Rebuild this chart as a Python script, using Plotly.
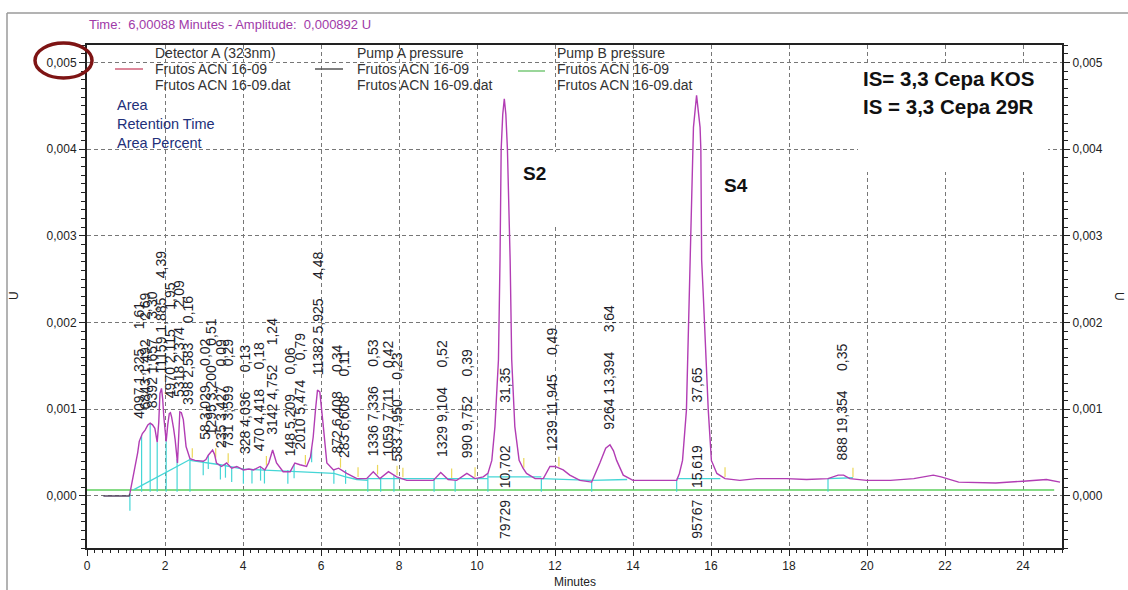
import numpy as np
import plotly.graph_objects as go

# ---------------- data ----------------
time_min = [0.42, 1.08, 1.10, 1.17, 1.23, 1.30, 1.34, 1.42, 1.49, 1.56, 1.62, 1.68, 1.74, 1.80, 1.84,
            1.87, 1.91, 1.94, 1.97, 2.03, 2.07, 2.11, 2.14, 2.17, 2.22, 2.26, 2.32, 2.35, 2.38, 2.42,
            2.47, 2.54, 2.64, 2.77, 2.98, 3.05, 3.11, 3.22, 3.27, 3.32, 3.45, 3.58, 3.71, 3.84, 4.01,
            4.15, 4.27, 4.44, 4.56, 4.66, 4.76, 4.86, 5.03, 5.21, 5.33, 5.46, 5.63, 5.73, 5.80, 5.86,
            5.91, 5.97, 6.02, 6.06, 6.15, 6.32, 6.45, 6.66, 6.92, 7.17, 7.34, 7.51, 7.73, 7.94, 8.20,
            8.88, 9.07, 9.26, 9.48, 9.74, 9.95, 10.16, 10.28, 10.38, 10.46, 10.55, 10.59, 10.62, 10.66,
            10.70, 10.74, 10.78, 10.85, 10.89, 10.97, 11.08, 11.18, 11.27, 11.49, 11.70, 11.87, 12.00,
            12.21, 12.38, 12.64, 12.94, 13.15, 13.30, 13.41, 13.50, 13.58, 13.75, 14.00, 14.69, 15.12,
            15.19, 15.27, 15.37, 15.44, 15.46, 15.52, 15.55, 15.63, 15.72, 15.74, 15.76, 15.80, 15.93,
            16.01, 16.15, 16.36, 16.74, 17.17, 17.94, 18.45, 19.00, 19.26, 19.40, 19.56, 19.99, 20.60,
            21.20, 21.70, 21.90, 22.35, 23.30, 24.00, 24.60, 24.95]
signal_u = [0.0, 0.0, 0.00003, 0.00018, 0.00034, 0.00050, 0.00063, 0.00072, 0.00076, 0.00082, 0.00084,
            0.00082, 0.00078, 0.00062, 0.00085, 0.00118, 0.00124, 0.00112, 0.00091, 0.00063, 0.00082,
            0.00095, 0.00096, 0.00091, 0.00078, 0.00065, 0.00038, 0.00070, 0.00097, 0.00096, 0.00088,
            0.00057, 0.00043, 0.00041, 0.00040, 0.00042, 0.00047, 0.00053, 0.00048, 0.00038, 0.00034,
            0.00038, 0.00032, 0.00034, 0.00030, 0.00031, 0.00030, 0.00034, 0.00030, 0.00038, 0.00053,
            0.00038, 0.00028, 0.00028, 0.00038, 0.00036, 0.00034, 0.00045, 0.00068, 0.00100, 0.00122,
            0.00120, 0.00100, 0.00080, 0.00038, 0.00030, 0.00032, 0.00026, 0.00020, 0.00020, 0.00028,
            0.00020, 0.00028, 0.00022, 0.00018, 0.00018, 0.00027, 0.00019, 0.00018, 0.00026, 0.00020,
            0.00022, 0.00026, 0.00041, 0.00080, 0.00157, 0.00272, 0.00400, 0.00440, 0.00458, 0.00440,
            0.00400, 0.00272, 0.00157, 0.00080, 0.00041, 0.00032, 0.00026, 0.00020, 0.00020, 0.00034,
            0.00034, 0.00030, 0.00024, 0.00018, 0.00016, 0.00038, 0.00055, 0.00059, 0.00052, 0.00041,
            0.00024, 0.00018, 0.00018, 0.00018, 0.00026, 0.00041, 0.00099, 0.00234, 0.00272, 0.00399,
            0.00425, 0.00462, 0.00425, 0.00399, 0.00272, 0.00234, 0.00099, 0.00041, 0.00026, 0.00020,
            0.00018, 0.00020, 0.00020, 0.00019, 0.00020, 0.00024, 0.00024, 0.00020, 0.00018, 0.00018,
            0.00020, 0.00024, 0.00022, 0.00016, 0.00015, 0.00017, 0.00019, 0.00016]

# integration baselines (cyan)
base_t = [1.19, 2.64, None, 2.64, 2.98, 3.42, 4.01, 4.50, 5.15, 5.76, 6.33, 6.63, 6.92, 7.20, None,
          7.20, 10.28, None, 10.28, 11.65, None, 11.65, 12.94, None, 12.94, 13.85, None,
          15.12, 16.24, None, 19.00, 19.64]
base_v = [0.00007, 0.00042, None, 0.00041, 0.00039, 0.00036, 0.00031, 0.00030, 0.00029, 0.00028,
          0.00026, 0.00022, 0.00019, 0.00018, None, 0.00020, 0.00020, None, 0.00022, 0.00022, None,
          0.00020, 0.00018, None, 0.00018, 0.00019, None, 0.00020, 0.00020, None, 0.00020, 0.00021]
drop_t = [1.10, 1.40, 1.62, 1.80, 2.03, 2.31, 2.64, 2.98, 3.11, 3.42, 3.55, 3.71, 4.01, 4.23, 4.45,
          4.55, 5.15, 5.31, 5.76, 6.33, 6.63, 7.20, 7.53, 7.87, 8.90, 9.44, 10.28, 11.65, 12.94,
          15.12, 19.00]
mark_t = [2.70, 3.30, 3.62, 4.60, 5.60, 6.50, 6.95, 7.45, 7.95, 8.10, 9.35, 9.95, 11.20, 12.10,
          16.36, 19.64]
pump_b_level = 0.00007

peak_rt = [1.325, 1.492, 1.657, 1.885, 2.115, 2.374, 2.583, 3.029, 3.200, 3.427, 3.599, 4.036,
           4.418, 4.752, 5.209, 5.474, 5.925, 6.408, 6.608, 7.336, 7.711, 7.950, 9.104, 9.752,
           10.702, 11.945, 13.394, 15.619, 19.354]
peak_area = [4097, 6843, 8392, 11159, 4970, 5318, 398, 58, 1295, 235, 731, 328, 470, 3142, 148,
             2010, 11382, 872, 283, 1336, 1059, 583, 1329, 990, 79729, 1239, 9264, 95767, 888]
peak_pct = [1.61, 2.69, 3.30, 4.39, 1.95, 2.09, 0.16, 0.02, 0.51, 0.09, 0.29, 0.13, 0.18, 1.24,
            0.06, 0.79, 4.48, 0.34, 0.11, 0.53, 0.42, 0.23, 0.52, 0.39, 31.35, 0.49, 3.64, 37.65,
            0.35]

x_ticks = list(range(0, 25, 2))
y_ticks = [0.000, 0.001, 0.002, 0.003, 0.004, 0.005]

# ---------------- figure ----------------
W, H = 1128, 590
L, R, T, B = 87, 1062, 45, 548
def px(x):
    return (x - L) / (R - L)
def py(y):
    return (B - y) / (B - T)

FONT = "Liberation Sans, Arial, sans-serif"
NB = "\u00a0"
fig = go.Figure()

t_arr = np.array(time_min)
s_arr = np.array(signal_u)

# pump B pressure (green)
fig.add_trace(go.Scatter(x=[0, 24.8], y=[pump_b_level, pump_b_level], mode="lines",
                         line=dict(color="#5ccf5c", width=1.5), hoverinfo="skip"))

# cyan baselines
fig.add_trace(go.Scatter(x=base_t, y=base_v, mode="lines", connectgaps=False,
                         line=dict(color="#45d6d6", width=1.3), hoverinfo="skip"))
# cyan drop lines
dx, dy = [], []
for t in drop_t:
    top = float(np.interp(t, t_arr, s_arr))
    if t < 1.15:
        bot = -0.00017
    elif t < 2.8 or t > 7.0:
        bot = pump_b_level - 0.00002
    else:
        top = max(top, 0.0003)
        bot = top - 0.00016
    dx += [t, t, None]
    dy += [top, bot, None]
fig.add_trace(go.Scatter(x=dx, y=dy, mode="lines", line=dict(color="#45d6d6", width=1.2),
                         hoverinfo="skip"))
# yellow peak markers
mx, my = [], []
for t in mark_t:
    v = float(np.interp(t, t_arr, s_arr))
    mx += [t, t, None]
    my += [v + 0.00002, v + 0.00013, None]
fig.add_trace(go.Scatter(x=mx, y=my, mode="lines", line=dict(color="#ecd85a", width=1.2),
                         hoverinfo="skip"))

# detector trace (flat start drawn darker, as in the screenshot)
flat = t_arr <= 1.10
fig.add_trace(go.Scatter(x=t_arr[flat], y=s_arr[flat], mode="lines",
                         line=dict(color="#5a4a66", width=1.4), hoverinfo="skip"))
fig.add_trace(go.Scatter(x=t_arr[t_arr >= 1.10], y=s_arr[t_arr >= 1.10], mode="lines",
                         line=dict(color="#b23db4", width=1.4), hoverinfo="skip"))

# right axis helper
fig.add_trace(go.Scatter(x=[0], y=[0], yaxis="y2", mode="markers", opacity=0,
                         hoverinfo="skip"))

# peak labels (area, retention time, area percent), rotated
ann = []
for rt, area, pct in zip(peak_rt, peak_area, peak_pct):
    local = s_arr[(t_arr > rt - 0.12) & (t_arr < rt + 0.12)]
    peak_h = float(local.max()) if local.size else float(np.interp(rt, t_arr, s_arr))
    rt_s = f"{rt:.3f}".replace(".", ",")
    pct_s = f"{pct:.2f}".replace(".", ",")
    if peak_h > 0.002:
        base = -0.00052
        txt = f"{area}{NB*3}{rt_s}{NB*11}{pct_s}"
    else:
        base = peak_h + 0.00015
        txt = f"{area}{NB}{rt_s}{NB*5}{pct_s}"
    ann.append(dict(x=rt, y=base, xref="x", yref="y", text=txt, showarrow=False,
                    textangle=-90, xanchor="center", yanchor="bottom",
                    font=dict(family=FONT, size=14, color="#1e1e2a")))

def ptext(x, y, text, size=12, color="#333333", anchor="left", bold=False, angle=0):
    ann.append(dict(x=px(x), y=py(y), xref="paper", yref="paper", text=(f"<b>{text}</b>" if bold else text),
                    showarrow=False, xanchor=anchor, yanchor="middle", textangle=angle,
                    font=dict(family=FONT, size=size, color=color)))

ptext(87, 25, "Time:  6,00088 Minutes - Amplitude:  0,000892 U", 13, "#a03aa8")
ptext(153, 53, "Detector A (323nm)", 14)
ptext(153, 69, "Frutos ACN 16-09", 14)
ptext(153, 85, "Frutos ACN 16-09.dat", 14)
ptext(355, 53, "Pump A pressure", 14)
ptext(355, 69, "Frutos ACN 16-09", 14)
ptext(355, 85, "Frutos ACN 16-09.dat", 14)
ptext(555, 53, "Pump B pressure", 14)
ptext(555, 69, "Frutos ACN 16-09", 14)
ptext(555, 85, "Frutos ACN 16-09.dat", 14)
ptext(115, 105, "Area", 14.5, "#22307a")
ptext(115, 124, "Retention Time", 14.5, "#22307a")
ptext(115, 143, "Area Percent", 14.5, "#22307a")
ptext(861, 79, "IS= 3,3 Cepa KOS", 20.5, "#111111", bold=True)
ptext(861, 106, "IS = 3,3 Cepa 29R", 20.5, "#111111", bold=True)
ptext(534, 173, "S2", 19, "#111111", anchor="center", bold=True)
ptext(736, 185, "S4", 19, "#111111", anchor="center", bold=True)
ptext(575, 582, "Minutes", 12, "#222222", anchor="center")
ptext(14, 296, "U", 12, "#222222", anchor="center", angle=-90)
ptext(1119, 296, "U", 12, "#222222", anchor="center", angle=90)

shapes = []
def pshape(**kw):
    d = dict(xref="paper", yref="paper", layer="above")
    d.update(kw)
    shapes.append(d)
# white boxes covering the grid
pshape(type="rect", x0=px(858), x1=px(1048), y0=py(172), y1=py(65), fillcolor="white", line=dict(width=0))
pshape(type="rect", x0=px(516), x1=px(578), y0=py(225), y1=py(152), fillcolor="white", line=dict(width=0))
pshape(type="rect", x0=px(716), x1=px(780), y0=py(232), y1=py(160), fillcolor="white", line=dict(width=0))
# legend line samples
pshape(type="line", x0=px(115), x1=px(143), y0=py(69), y1=py(69), line=dict(color="#d0607a", width=1.5))
pshape(type="line", x0=px(315), x1=px(343), y0=py(69), y1=py(69), line=dict(color="#555555", width=1.5))
pshape(type="line", x0=px(518), x1=px(545), y0=py(71), y1=py(71), line=dict(color="#78c878", width=1.5))
# outer window border
pshape(type="line", x0=px(7), x1=px(7), y0=py(13), y1=py(590), line=dict(color="#9a9a9a", width=1.5))
pshape(type="line", x0=px(7), x1=px(1128), y0=py(13), y1=py(13), line=dict(color="#9a9a9a", width=1.5))
# red ellipse around 0,005
pshape(type="circle", x0=px(35), x1=px(92), y0=py(78), y1=py(43), line=dict(color="#7e1414", width=3.5))

axis_common = dict(showline=True, linecolor="#222222", linewidth=2, ticks="outside",
                   tickcolor="#222222", tickfont=dict(family=FONT, size=12, color="#222222"))
fig.update_layout(
    width=W, height=H, margin=dict(l=L, r=W - R, t=T, b=H - B, autoexpand=False),
    paper_bgcolor="white", plot_bgcolor="white", showlegend=False,
    separators=", ",
    xaxis=dict(range=[0, 25], tickvals=x_ticks, ticklen=6, mirror=True,
               showgrid=True, gridcolor="#777777", griddash="4px,3px", gridwidth=1,
               minor=dict(dtick=0.2, ticklen=3, ticks="outside", tickcolor="#222222", showgrid=False),
               zeroline=False, **axis_common),
    yaxis=dict(range=[-0.0006, 0.0052], tickvals=y_ticks, tickformat=".3f", ticklen=6,
               showgrid=True, gridcolor="#777777", griddash="4px,3px", gridwidth=1,
               minor=dict(dtick=0.0001, ticklen=4, ticks="outside", tickcolor="#222222", showgrid=False),
               zeroline=False, **axis_common),
    yaxis2=dict(range=[-0.0006, 0.0052], tickvals=y_ticks, tickformat=".3f", ticklen=6,
                overlaying="y", side="right", showgrid=False, zeroline=False,
                minor=dict(dtick=0.0001, ticklen=4, ticks="outside", tickcolor="#222222"),
                **axis_common),
    annotations=ann, shapes=shapes,
)
fig.write_html("out.html", config={"displayModeBar": False},
               post_script="document.body.style.margin='0';")
